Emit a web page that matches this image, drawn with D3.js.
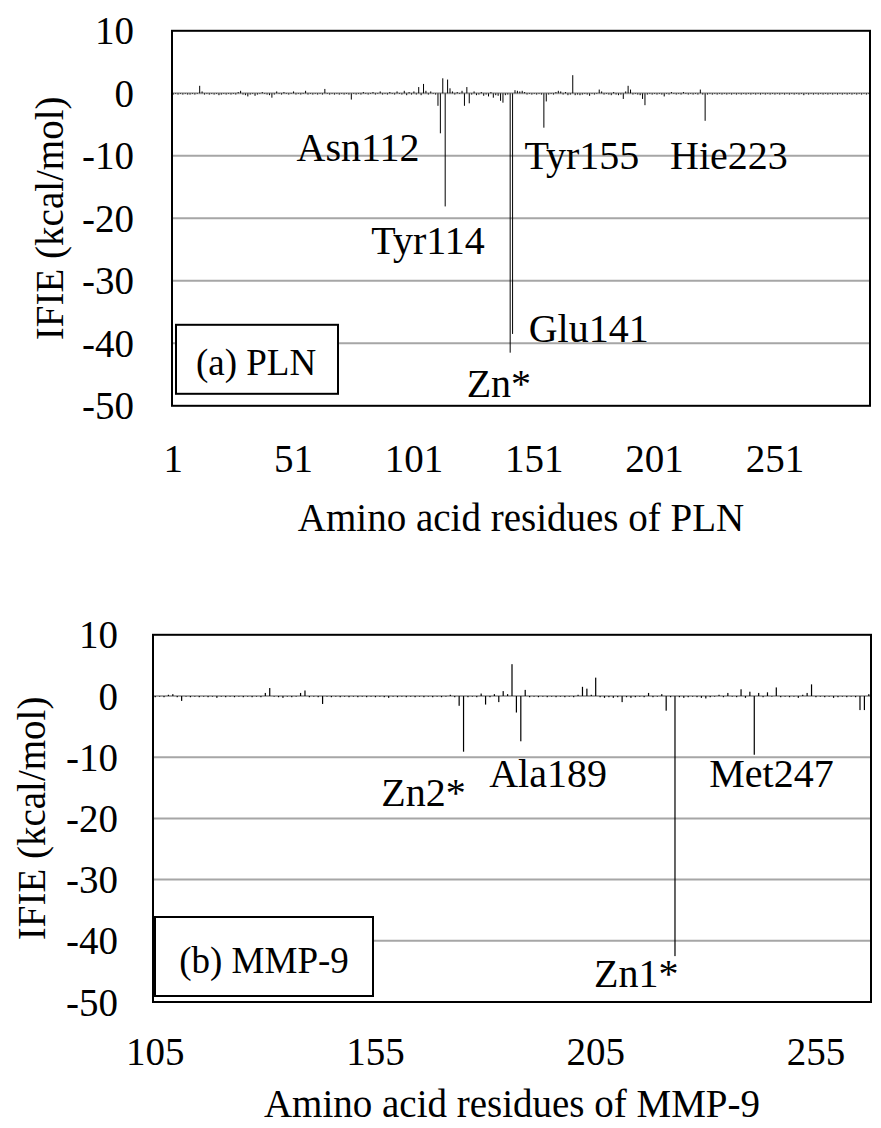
<!DOCTYPE html>
<html><head><meta charset="utf-8">
<script src="https://cdn.jsdelivr.net/npm/d3@7"></script>
<style>
html,body{margin:0;padding:0;background:#fff;}
svg{display:block;}
</style></head>
<body>
<svg id="chart" width="881" height="1128" font-family="'Liberation Serif', 'Times New Roman', 'DejaVu Serif', serif"></svg>
<script>
// ---------- DATA ----------
// (a) PLN: IFIE per residue (category index 0 = residue label "1")
const plnValues = [
 -0.2,-0.1,-0.2,-0.1,-0.2,-0.1,-0.2,-0.2,-0.1,-0.2,
 -0.1, 1.2, 0.3,-0.2,-0.1,-0.2,-0.1,-0.2,-0.1,-0.3,
 -0.2,-0.1,-0.2,-0.1,-0.2,-0.1,-0.2, 0.2, 0.4,-0.2,
 -0.3,-0.5,-0.2,-0.1,-0.4,-0.2,-0.1, 0.2,-0.1,-0.2,
 -0.3,-0.7,-0.2, 0.3,-0.1,-0.2, 0.2,-0.1,-0.2,-0.1,
  0.3,-0.2,-0.1,-0.2,-0.1, 0.4,-0.2,-0.1,-0.2,-0.1,
 -0.2,-0.1,-0.2, 0.7,-0.1,-0.2,-0.1,-0.2,-0.1,-0.2,
 -0.1,-0.2,-0.1,-0.2,-1.0,-0.1,-0.2,-0.1,-0.2, 0.2,
 -0.1,-0.2,-0.1, 0.2,-0.2,-0.1, 0.3,-0.2,-0.1,-0.2,
  0.2,-0.1,-0.2, 0.3,-0.1,-0.2, 0.4,-0.3, 0.2,-0.2,
  0.3,-0.2, 1.0,-0.3, 1.5, 0.4,-0.2, 0.3,-0.1,-0.2,
 -2.0,-6.4, 2.4,-18.1, 2.2, 0.8, 0.3,-0.2, 0.2,-0.1,
  0.4,-2.0, 1.0,-1.6,-0.2, 0.3,-0.3,-0.2, 0.2,-0.4,
 -0.2,-0.5, 0.2,-0.7,-0.3,-0.4,-1.2,-1.5,-0.3,-0.2,
 -41.5,-38.5, 0.5, 0.4, 0.3, 0.4, 0.2,-0.2,-0.1,-0.2,
 -0.1,-0.2,-0.1,-0.2,-5.5,-1.3,-0.2,-0.1,-0.2, 0.2,
  0.4, 0.3,-0.2, 0.2,-0.3,-0.2, 2.9,-0.3,-0.2,-0.3,
 -0.2,-0.1,-0.2,-0.4,-0.1,-0.2,-0.1, 0.6, 0.3,-0.2,
 -0.1,-0.2,-0.3, 0.2,-0.2,-0.3,-0.2,-0.9, 0.3, 1.2,
  0.6,-0.2,-0.1,-0.2,-0.3,-0.9,-1.9,-0.2,-0.1,-0.2,
 -0.1,-0.2,-0.1,-0.2,-0.5,-0.1,-0.2, 0.2,-0.1,-0.2,
 -0.1,-0.2, 0.2,-0.1,-0.2,-0.1,-0.2,-0.1,-0.2, 0.6,
 -0.2,-4.4,-0.2,-0.1,-0.2,-0.1,-0.2,-0.1,-0.2,-0.1,
 -0.2,-0.1,-0.2,-0.1,-0.2,-0.1,-0.2,-0.1,-0.2,-0.1,
 -0.2,-0.1,-0.2,-0.1,-0.2,-0.1,-0.2,-0.1,-0.2,-0.1,
 -0.2,-0.1,-0.2,-0.1,-0.2,-0.1,-0.2,-0.1,-0.2,-0.1,
 -0.2,-0.1,-0.3,-0.1,-0.2,-0.1,-0.2,-0.1,-0.2,-0.1,
 -0.2,-0.1,-0.2,-0.1,-0.2,-0.1,-0.2,-0.1,-0.2,-0.1,
 -0.2,-0.1,-0.2,-0.1,-0.2,-0.1,-0.2,-0.1,-0.2,-0.1
];
const plnTickLabels = ["1","51","101","151","201","251"];
const plnTickIndex  = [0, 50, 100, 150, 200, 250];
const plnAnnText = ["Asn112","Tyr155","Hie223","Tyr114","Glu141","Zn*"];
const plnAnnIdx  = [76.8, 169.8, 230.9, 105.9, 172.6, 135.3];
const plnAnnVal  = [-8.6, -10.0, -10.0, -23.5, -37.7, -46.5];

// (b) MMP-9: IFIE per residue (category index 0 = residue label "105")
const mmpValues = [
 -0.2,-0.1,-0.2, 0.2, 0.3,-0.2,-0.8,-0.1,-0.2,-0.1,
 -0.2,-0.1,-0.2,-0.1,-0.3,-0.1,-0.2,-0.1,-0.2,-0.1,
 -0.2,-0.1,-0.2,-0.1,-0.2, 0.5, 1.3,-0.1,-0.2,-0.3,
 -0.1,-0.2,-0.1, 0.5, 0.9,-0.2,-0.1,-0.2,-1.3,-0.1,
 -0.2,-0.1,-0.2,-0.1,-0.2,-0.1,-0.2,-0.1,-0.2,-0.1,
 -0.2,-0.1,-0.2,-0.3,-0.1,-0.2,-0.1,-0.2,-0.1,-0.2,
 -0.1,-0.2,-0.1,-0.2,-0.1,-0.2,-0.1, 0.2,-0.2,-1.6,
 -9.1,-0.2,-0.1,-0.2, 0.4,-1.4,-0.2, 0.3,-1.0, 0.8,
  0.3, 5.2,-2.7,-7.4, 1.0,-0.2,-0.1,-0.2,-0.1,-0.2,
 -0.1,-0.2,-0.1,-0.2,-0.1,-0.2, 0.2, 1.5, 1.2, 0.2,
  3.0,-0.2,-0.3,-0.2,-0.3,-0.2,-1.0,-0.2,-0.3,-0.2,
 -0.1,-0.2, 0.5,-0.2,-0.1, 0.3,-2.4,-0.2,-42.5,-0.2,
 -0.3,-0.2,-0.1,-0.2,-0.3,-0.4,-0.2,-0.1, 0.2,-0.2,
  0.5,-0.1,-0.2, 1.1,-0.3, 0.7,-9.6, 0.5,-0.2, 0.6,
 -0.1, 1.4,-0.2,-0.1,-0.2,-0.1,-0.3, 0.2, 0.5, 1.9,
 -0.2,-0.1,-0.2,-0.1,-0.3,-0.2,-0.1,-0.2,-0.1,-0.2,
 -2.3,-2.3, 0.3
];
const mmpTickLabels = ["105","155","205","255"];
const mmpTickIndex  = [0, 50, 100, 150];
const mmpAnnText = ["Zn2*","Ala189","Met247","Zn1*"];
const mmpAnnIdx  = [60.9, 89.2, 139.9, 109.2];
const mmpAnnVal  = [-15.7, -12.6, -12.6, -45.4];

const yTicks = [10, 0, -10, -20, -30, -40, -50];
const yDomain = [-50, 10];

// ---------- DRAW ----------
const svg = d3.select("#chart");
const FF = "'Liberation Serif', 'Times New Roman', 'DejaVu Serif', serif";
const FONT = 39;

function txt(sel){ return sel.attr("font-family", FF).attr("fill", "#000"); }

function drawPanel(cfg){
  const g = svg.append("g");
  const N = cfg.values.length;
  const x = d3.scaleBand().domain(d3.range(N)).range([cfg.left, cfg.right]).padding(0);
  const xc = d3.scaleLinear().domain([-0.5, N - 0.5]).range([cfg.left, cfg.right]);
  const y = d3.scaleLinear().domain(yDomain).range([cfg.bottom, cfg.top]);

  g.append("g").selectAll("line").data(yTicks.filter(t => t > yDomain[0] && t < yDomain[1]))
    .join("line")
    .attr("x1", cfg.left).attr("x2", cfg.right)
    .attr("y1", d => y(d)).attr("y2", d => y(d))
    .attr("stroke", "#a6a6a6").attr("stroke-width", 2);

  const bw = cfg.barWidth;
  g.append("g").selectAll("rect").data(cfg.values).join("rect")
    .attr("x", (d, i) => x(i) + (x.bandwidth() - bw) / 2)
    .attr("width", bw)
    .attr("y", d => Math.min(y(0), y(d)))
    .attr("height", d => Math.abs(y(d) - y(0)))
    .attr("fill", "#000");

  g.append("rect")
    .attr("x", cfg.left).attr("y", cfg.top)
    .attr("width", cfg.right - cfg.left).attr("height", cfg.bottom - cfg.top)
    .attr("fill", "none").attr("stroke", "#000").attr("stroke-width", 2);

  txt(g.append("g").selectAll("text").data(yTicks).join("text"))
    .attr("x", cfg.yLabelX).attr("y", d => y(d))
    .attr("text-anchor", "end").attr("dominant-baseline", "central")
    .attr("font-size", FONT).text(d => d);

  txt(g.append("g").selectAll("text").data(cfg.tickIndex).join("text"))
    .attr("x", d => x(d) + x.bandwidth() / 2).attr("y", cfg.xLabelY)
    .attr("text-anchor", "middle").attr("dominant-baseline", "central")
    .attr("font-size", FONT).text((d, i) => cfg.tickLabels[i]);

  txt(g.append("text"))
    .attr("x", (cfg.left + cfg.right) / 2).attr("y", cfg.xTitleY)
    .attr("text-anchor", "middle").attr("dominant-baseline", "central")
    .attr("font-size", FONT).text(cfg.xTitle);
  txt(g.append("text"))
    .attr("transform", `translate(${cfg.yTitleX},${(cfg.top + cfg.bottom) / 2}) rotate(-90)`)
    .attr("text-anchor", "middle").attr("dominant-baseline", "central")
    .attr("font-size", FONT).text("IFIE (kcal/mol)");

  txt(g.append("g").selectAll("text").data(cfg.annText).join("text"))
    .attr("x", (d, i) => xc(cfg.annIdx[i])).attr("y", (d, i) => y(cfg.annVal[i]))
    .attr("text-anchor", "middle").attr("dominant-baseline", "central")
    .attr("font-size", 40).text(d => d);

  const b = cfg.box;
  g.append("rect")
    .attr("x", cfg.left + b.dx).attr("y", cfg.bottom - b.dyBottom - b.h)
    .attr("width", b.w).attr("height", b.h)
    .attr("fill", "#fff").attr("stroke", "#000").attr("stroke-width", 2);
  txt(g.append("text"))
    .attr("x", cfg.left + b.dx + b.w / 2 + b.tx).attr("y", cfg.bottom - b.dyBottom - b.h / 2 + b.ty)
    .attr("text-anchor", "middle").attr("dominant-baseline", "central")
    .attr("font-size", 37).text(b.text);
}

drawPanel({
  values: plnValues, tickLabels: plnTickLabels, tickIndex: plnTickIndex,
  annText: plnAnnText, annIdx: plnAnnIdx, annVal: plnAnnVal,
  left: 172, right: 870, top: 30.8, bottom: 405.8,
  barWidth: 1, yLabelX: 134, xLabelY: 458, xTitleY: 517, yTitleX: 49,
  xTitle: "Amino acid residues of PLN",
  box: {dx: 4, dyBottom: 12, w: 162, h: 69, text: "(a) PLN", tx: -1, ty: 3}
});

drawPanel({
  values: mmpValues, tickLabels: mmpTickLabels, tickIndex: mmpTickIndex,
  annText: mmpAnnText, annIdx: mmpAnnIdx, annVal: mmpAnnVal,
  left: 153, right: 871, top: 634.8, bottom: 1002,
  barWidth: 1.2, yLabelX: 118, xLabelY: 1051, xTitleY: 1103, yTitleX: 31,
  xTitle: "Amino acid residues of MMP-9",
  box: {dx: 2, dyBottom: 6, w: 218, h: 79, text: "(b) MMP-9", tx: 0, ty: 4}
});
</script>
</body></html>
